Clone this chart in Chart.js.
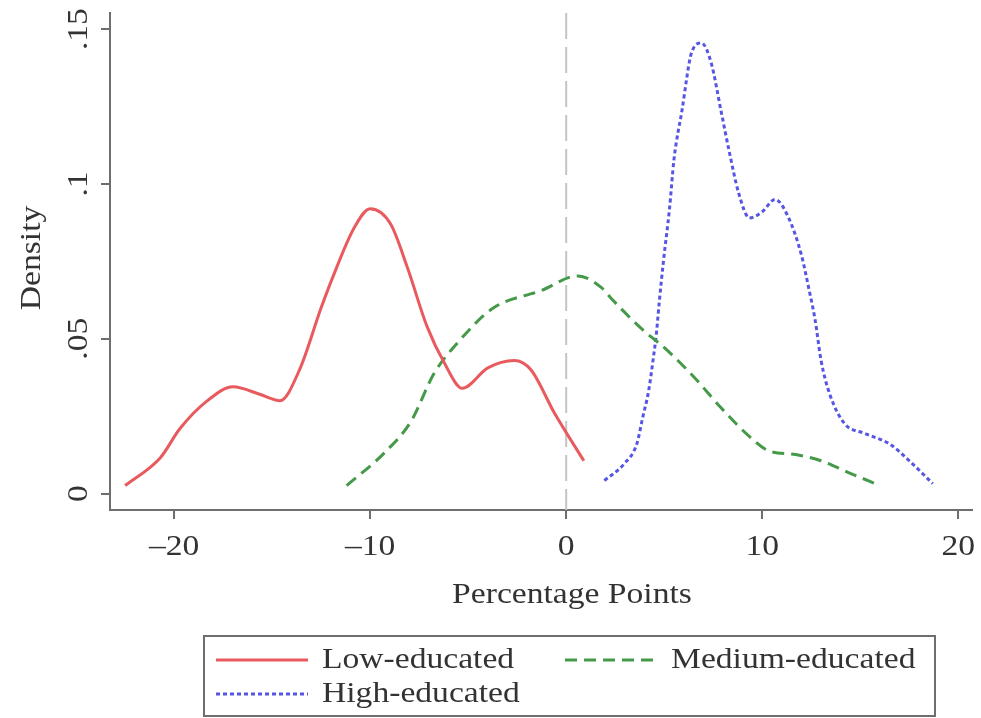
<!DOCTYPE html>
<html>
<head>
<meta charset="utf-8">
<title>Density by education</title>
<script src="https://cdn.jsdelivr.net/npm/chart.js@4.4.1/dist/chart.umd.min.js"></script>
<style>
  html, body { margin: 0; padding: 0; background: #fff; }
  #wrap { width: 981px; height: 718px; position: relative; }
</style>
</head>
<body>
<div id="wrap"><canvas id="graph"></canvas></div>
<script>
// values
const lowX = [-22.5, -20.7, -19.7, -18.3, -17.0, -15.6, -14.6, -13.6, -12.5, -11.9, -10.8, -10.0, -8.95, -8.1, -7.1, -6.2, -5.3, -4.0, -2.65, -1.8, -0.6, 0.9];
const lowY = [0.0026, 0.0116, 0.021, 0.030, 0.0345, 0.032, 0.030, 0.040, 0.060, 0.070, 0.086, 0.092, 0.087, 0.073, 0.054, 0.042, 0.034, 0.0406, 0.043, 0.040, 0.026, 0.0106];

const medX = [-11.2, -9.3, -7.9, -6.75, -5.5, -3.7, -1.3, 0.6, 1.8, 2.3, 3.8, 5.2, 6.55, 7.9, 9.3, 10.3, 11.7, 13.0, 14.4, 16.0];
const medY = [0.0026, 0.013, 0.0235, 0.0387, 0.049, 0.060, 0.0655, 0.0703, 0.0665, 0.063, 0.0535, 0.046, 0.0374, 0.0277, 0.0187, 0.0139, 0.0126, 0.0106, 0.0068, 0.0026];

const highX = [1.95, 2.97, 3.6, 3.9, 4.2, 4.45, 4.6, 4.75, 4.96, 5.27, 5.5, 5.9, 6.4, 6.9, 7.4, 7.9, 8.3, 8.8, 9.35, 10.0, 10.65, 11.35, 12.0, 12.4, 12.7, 13.0, 13.45, 14.2, 15.25, 16.5, 17.5, 18.7];
const highY = [0.0042, 0.0097, 0.016, 0.0245, 0.033, 0.044, 0.0516, 0.062, 0.075, 0.092, 0.108, 0.1235, 0.1425, 0.1455, 0.139, 0.1235, 0.111, 0.097, 0.089, 0.091, 0.095, 0.089, 0.077, 0.0655, 0.056, 0.043, 0.032, 0.0226, 0.0194, 0.016, 0.0106, 0.0032];

const xTicks = [-20, -10, 0, 10, 20];
const xTickLabels = ['\u201320', '\u201310', '0', '10', '20'];
const yTicks = [0, 0.05, 0.1, 0.15];
const yTickLabels = ['0', '.05', '.1', '.15'];
const refLineX = [0];

const seriesNames = ['Low-educated', 'Medium-educated', 'High-educated'];

const serif = "'Liberation Serif', 'Times New Roman', serif";
const axisGrey = '#6e6e6e';
const textColor = '#333333';
const stretch = 1.12; // the source text is a bit wider than Times

function toPoints(xs, ys) {
    var pts = [];
    for (let i = 0; i < xs.length; i++) {
        pts.push({ x: xs[i], y: ys[i] });
    }
    return pts;
}

function wideText(ctx, text, x, y, align, angle) {
    ctx.save();
    ctx.translate(x, y);
    if (angle) ctx.rotate(angle);
    ctx.scale(stretch, 1);
    ctx.textAlign = align;
    ctx.fillText(text, 0, 0);
    ctx.restore();
}

// extra drawing: reference line, tick labels, titles and the boxed legend
const extras = {
    id: 'extras',
    beforeDatasetsDraw(chart) {
        const ctx = chart.ctx;
        const area = chart.chartArea;
        const xs = chart.scales.x;
        ctx.save();
        ctx.strokeStyle = '#c4c4c4';
        ctx.lineWidth = 2;
        ctx.setLineDash([26, 8]);
        refLineX.forEach(v => {
            const px = xs.getPixelForValue(v);
            ctx.beginPath();
            ctx.moveTo(px, area.top);
            ctx.lineTo(px, area.bottom);
            ctx.stroke();
        });
        ctx.restore();
    },
    afterDraw(chart) {
        const ctx = chart.ctx;
        const xs = chart.scales.x;
        const ys = chart.scales.y;
        ctx.save();
        ctx.fillStyle = textColor;
        ctx.font = '30px ' + serif;
        ctx.textBaseline = 'alphabetic';

        // x tick labels
        xTicks.forEach((v, i) => {
            wideText(ctx, xTickLabels[i], xs.getPixelForValue(v), 555, 'center');
        });

        // y tick labels, rotated
        yTicks.forEach((v, i) => {
            wideText(ctx, yTickLabels[i], 87, ys.getPixelForValue(v), 'center', -Math.PI / 2);
        });

        // axis titles
        wideText(ctx, 'Density', 40, 258, 'center', -Math.PI / 2);
        wideText(ctx, 'Percentage Points', 572, 603, 'center');

        // legend box
        ctx.strokeStyle = axisGrey;
        ctx.lineWidth = 2;
        ctx.strokeRect(204, 636, 731, 80);

        const ds = chart.data.datasets;
        const items = [
            { d: ds[0], x: 216, y: 660 },
            { d: ds[1], x: 565, y: 660 },
            { d: ds[2], x: 216, y: 694 }
        ];
        items.forEach(it => {
            ctx.save();
            ctx.strokeStyle = it.d.borderColor;
            ctx.lineWidth = it.d.borderWidth;
            ctx.setLineDash(it.d.borderDash || []);
            ctx.beginPath();
            ctx.moveTo(it.x, it.y);
            ctx.lineTo(it.x + 92, it.y);
            ctx.stroke();
            ctx.restore();
            wideText(ctx, it.d.label, it.x + 106, it.y + 8, 'left');
        });
        ctx.restore();
    }
};

const config = {
    type: 'line',
    data: {
        datasets: [
            {
                label: seriesNames[0],
                data: toPoints(lowX, lowY),
                borderColor: '#e85a5e',
                borderWidth: 3,
                pointRadius: 0,
                cubicInterpolationMode: 'monotone'
            },
            {
                label: seriesNames[1],
                data: toPoints(medX, medY),
                borderColor: '#449a48',
                borderWidth: 3,
                borderDash: [12, 7],
                pointRadius: 0,
                cubicInterpolationMode: 'monotone'
            },
            {
                label: seriesNames[2],
                data: toPoints(highX, highY),
                borderColor: '#5656e4',
                borderWidth: 3,
                borderDash: [4, 3],
                pointRadius: 0,
                cubicInterpolationMode: 'monotone'
            }
        ]
    },
    options: {
        responsive: true,
        maintainAspectRatio: false,
        animation: false,
        layout: { padding: { left: 0, right: 9, top: 13, bottom: 100 } },
        plugins: {
            legend: { display: false },
            tooltip: { enabled: false }
        },
        scales: {
            x: {
                type: 'linear',
                min: -23.27,
                max: 20.7,
                afterBuildTicks: s => { s.ticks = xTicks.map(v => ({ value: v })); },
                afterFit: s => { s.height = 108; },
                ticks: { display: false },
                grid: {
                    drawOnChartArea: false,
                    drawTicks: true,
                    tickLength: 9,
                    color: axisGrey,
                    lineWidth: 2
                },
                border: { display: true, color: axisGrey, width: 2 }
            },
            y: {
                type: 'linear',
                min: -0.0053,
                max: 0.1552,
                afterBuildTicks: s => { s.ticks = yTicks.map(v => ({ value: v })); },
                afterFit: s => { s.width = 110; },
                ticks: { display: false },
                grid: {
                    drawOnChartArea: false,
                    drawTicks: true,
                    tickLength: 9,
                    color: axisGrey,
                    lineWidth: 2
                },
                border: { display: true, color: axisGrey, width: 2 }
            }
        }
    },
    plugins: [extras]
};

new Chart(document.getElementById('graph'), config);
</script>
</body>
</html>
